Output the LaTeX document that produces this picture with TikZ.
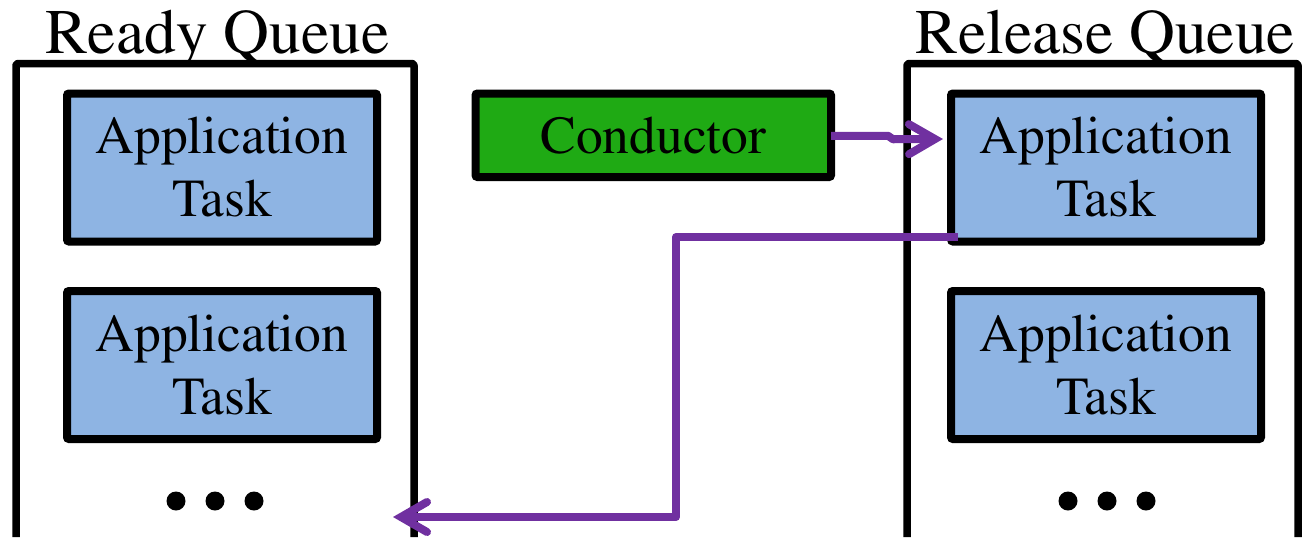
\documentclass[tikz,border=0pt]{standalone}
\usepackage[T1]{fontenc}
\usepackage{times}
\usetikzlibrary{arrows.meta}
\definecolor{taskblue}{HTML}{8EB4E3}
\definecolor{condgreen}{HTML}{1FAA14}
\definecolor{flowpurple}{HTML}{7030A0}
\begin{document}
\begin{tikzpicture}[x=1pt,y=-1pt,
  queue/.style={line width=7.5pt, line join=round, rounded corners=2pt},
  taskbox/.style={draw, line width=8pt, fill=taskblue, rounded corners=2pt,
    minimum width=310pt, minimum height=148pt, align=center, inner sep=0pt,
    outer sep=0pt, font=\fontsize{53.5}{63}\selectfont},
  condbox/.style={draw, line width=8pt, fill=condgreen, rounded corners=2pt,
    minimum width=355.5pt, minimum height=83.5pt, inner sep=0pt, outer sep=0pt,
    font=\fontsize{53.5}{63}\selectfont},
  qtitle/.style={anchor=base, inner sep=0pt, font=\fontsize{63.5}{70}\selectfont},
  flow/.style={draw=flowpurple, line width=8pt, line join=round,
    -{Straight Barb[length=26pt, width=30pt, line cap=round]}},
  dotmark/.style={circle, fill=black, minimum size=19pt, inner sep=0pt}
]
\useasboundingbox (0,0) rectangle (1307,542);

% queue containers (open at the bottom)
\draw[queue] (16,537) -- (16,63.5) -- (414,63.5) -- (414,537);
\draw[queue] (907,537) -- (907,63.5) -- (1298,63.5) -- (1298,537);
\node[qtitle] (rqt) at (217.5,53) {Ready Queue};
\node[qtitle] (lqt) at (1105.5,53) {Release Queue};

% tasks
\node[taskbox] (lt1) at (222,167.5) {Application\\Task};
\node[taskbox] (lt2) at (222,365) {Application\\Task};
\node[taskbox] (rt1) at (1106,167.5) {Application\\Task};
\node[taskbox] (rt2) at (1106,365) {Application\\Task};

% conductor
\node[condbox] (cond) at (653.25,135.25) {Conductor};

% ellipsis dots
\foreach \i/\x in {1/176,2/215,3/254} {\node[dotmark] (ld\i) at (\x,501) {};}
\foreach \i/\x in {1/1068,2/1107,3/1146} {\node[dotmark] (rd\i) at (\x,501) {};}

% flows
\coordinate (condin) at (943,139);
\coordinate (readyin) at (393,517);
\draw[flow] ([yshift=-0.5pt]cond.east) -- ++(57,0) -- ++(5,3.5) -- (condin);
\draw[flow] ([shift={(7,-4.5)}]rt1.south west) -- ++(-282,0) -- ++(0,280) -- (readyin);
\end{tikzpicture}
\end{document}
